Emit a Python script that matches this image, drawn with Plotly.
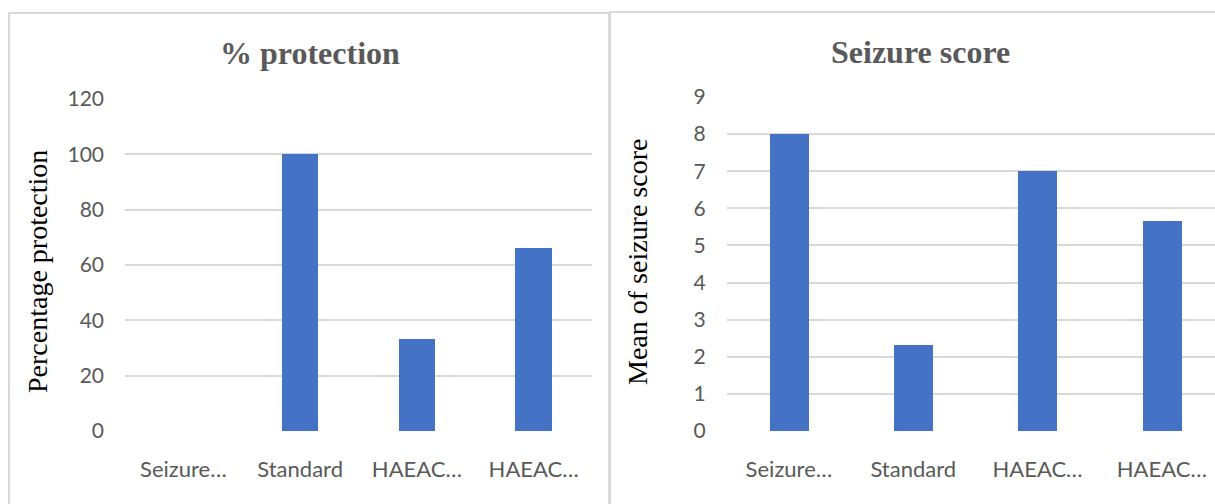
import plotly.graph_objects as go

# Data
categories = ["Seizure…", "Standard", "HAEAC…", "HAEAC…"]
protection_pct = [0, 100, 33.33, 66]
seizure_score = [8, 2.33, 7, 5.67]
protection_ticks = [0, 20, 40, 60, 80, 100, 120]
score_ticks = [0, 1, 2, 3, 4, 5, 6, 7, 8, 9]

W, H = 1215, 504
BAR = "#4472C4"
GRID = "#d9d9d9"
TICK = "#595959"
SANS = "Lato, Calibri, Carlito, sans-serif"
SERIF = "Liberation Serif, Times New Roman, serif"

def px_x(x):
    return x / W

def px_y(y):
    return 1 - y / H

positions = list(range(len(categories)))

fig = go.Figure()
fig.add_trace(go.Bar(x=positions, y=protection_pct, marker_color=BAR,
                     marker_line_width=0, width=0.313,
                     xaxis="x", yaxis="y", showlegend=False))
fig.add_trace(go.Bar(x=positions, y=seizure_score, marker_color=BAR,
                     marker_line_width=0, width=0.313,
                     xaxis="x2", yaxis="y2", showlegend=False))

xcommon = dict(tickmode="array", tickvals=positions, ticktext=categories,
               showgrid=False, zeroline=False, showline=False, ticks="",
               tickfont=dict(family=SANS, size=22, color=TICK),
               ticklabelstandoff=23, automargin=False, fixedrange=True)
ycommon = dict(showgrid=True, gridcolor=GRID, gridwidth=1.7, zeroline=False,
               showline=False, ticks="", tickmode="array",
               tickfont=dict(family=SANS, size=21, color=TICK),
               ticklabelstandoff=20, automargin=False, fixedrange=True)

fig.update_layout(
    width=W, height=H,
    margin=dict(l=0, r=0, t=0, b=0, pad=0),
    paper_bgcolor="white", plot_bgcolor="white",
    xaxis=dict(domain=[px_x(125), px_x(592)], range=[-0.5, 3.5], anchor="y", **xcommon),
    yaxis=dict(domain=[px_y(431), px_y(99)], range=[0, 120], anchor="x",
               tickvals=protection_ticks, **ycommon),
    xaxis2=dict(domain=[px_x(726.8), 1.0], range=[-0.5, (W - 726.8) / 124.3 - 0.5],
                anchor="y2", **xcommon),
    yaxis2=dict(domain=[px_y(431), px_y(97)], range=[0, 9], anchor="x2",
                tickvals=score_ticks, **ycommon),
    bargap=0,
)

# Panel borders
for x0, x1, y0 in [(9, 609, 13), (610, W + 5, 12)]:
    fig.add_shape(type="rect", xref="paper", yref="paper",
                  x0=px_x(x0), x1=px_x(x1), y0=px_y(H + 5), y1=px_y(y0),
                  line=dict(color=GRID, width=2), layer="below")

def label(text, x, y, size, color, angle=0):
    fig.add_annotation(text=text, xref="paper", yref="paper",
                       x=px_x(x), y=px_y(y), xanchor="center", yanchor="middle",
                       showarrow=False, textangle=angle,
                       font=dict(family=SERIF, size=size, color=color))

# Chart titles
label("<b>% protection</b>", 310, 53, 32, TICK)
label("<b>Seizure score</b>", 920, 52, 32, TICK)

# Axis titles
label("Percentage protection", 37, 272, 28, "black", -90)
label("Mean of seizure score", 637, 262, 28, "black", -90)

fig.write_html("out.html")
